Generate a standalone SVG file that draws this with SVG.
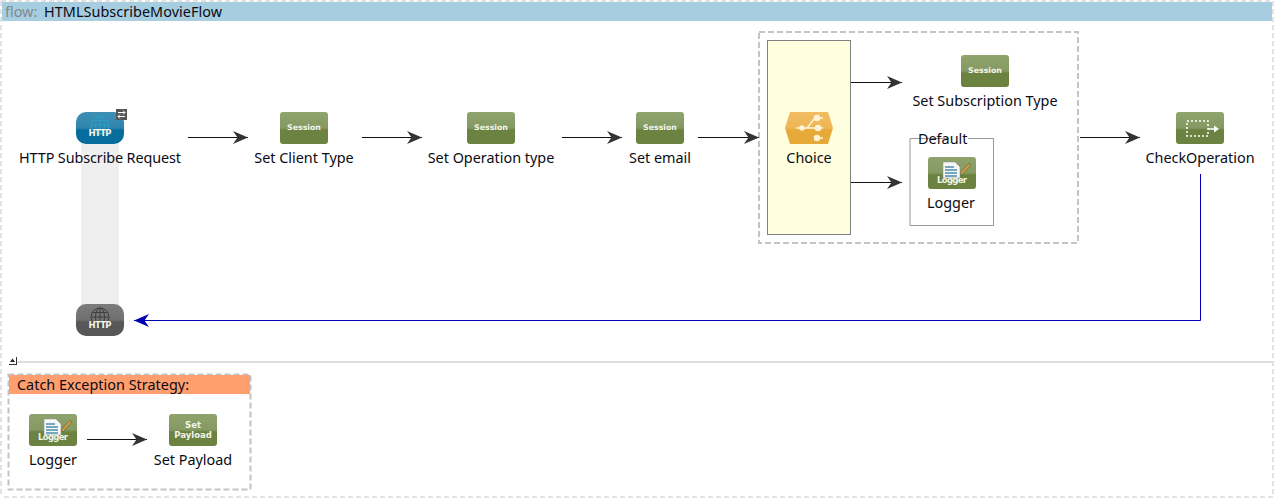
<svg xmlns="http://www.w3.org/2000/svg" width="1274" height="498" viewBox="0 0 1274 498">
<style>
text{font-family:"Noto Sans","Open Sans","Liberation Sans",sans-serif;font-size:14.4px;fill:#0b0b14}
.l{text-anchor:middle}
.ic{font-family:"DejaVu Sans",sans-serif;font-size:8.5px;font-weight:700;fill:#f2f5ea;text-anchor:middle}
.c{fill:none;stroke:#111;stroke-width:1}
.dash{fill:none;stroke:#c4c4c4;stroke-width:2;stroke-dasharray:6 3}
.dash2{fill:none;stroke:#e2e2e2;stroke-width:2;stroke-dasharray:5 3}
</style>
<defs>
<linearGradient id="g" x1="0" y1="0" x2="0" y2="1"><stop offset="0" stop-color="#8fa36c"/><stop offset=".5" stop-color="#859a62"/><stop offset=".56" stop-color="#6b8240"/><stop offset="1" stop-color="#6b8240"/></linearGradient>
<linearGradient id="b" x1="0" y1="0" x2="0" y2="1"><stop offset="0" stop-color="#3f8fb5"/><stop offset=".5" stop-color="#2f84ad"/><stop offset=".56" stop-color="#066d9c"/><stop offset="1" stop-color="#066d9c"/></linearGradient>
<linearGradient id="k" x1="0" y1="0" x2="0" y2="1"><stop offset="0" stop-color="#7c7c7c"/><stop offset=".5" stop-color="#707070"/><stop offset=".56" stop-color="#575757"/><stop offset="1" stop-color="#575757"/></linearGradient>
<linearGradient id="o" x1="0" y1="0" x2="0" y2="1"><stop offset="0" stop-color="#f0bd62"/><stop offset=".5" stop-color="#eeb655"/><stop offset=".56" stop-color="#e6a93a"/><stop offset="1" stop-color="#e6a93a"/></linearGradient>
<marker id="ah" markerUnits="userSpaceOnUse" markerWidth="16" markerHeight="14" refX="15" refY="7" orient="auto"><path d="M0 0.500L15 7L0 13.500L4.500 7Z" fill="#333"/></marker>
<marker id="ab" markerUnits="userSpaceOnUse" markerWidth="16" markerHeight="14" refX="15" refY="7" orient="auto"><path d="M0 0.500L15 7L0 13.500L4.500 7Z" fill="#0000b4"/></marker>
<g id="globe" fill="none" stroke-width="1"><circle cx="0" cy="0" r="9"/><ellipse cx="0" cy="0" rx="4.500" ry="9"/><path d="M0-9V9M-9 0H9M-8-4.500H8M-8 4.500H8"/></g>
<g id="doc"><path d="M-8-8H4L9-3V8H-8Z" fill="#f7f7f7" stroke="#888" stroke-width=".5"/><path d="M-6-3H3M-6 0H6M-6 3H6M-6 6H6" stroke="#4a8fb0" stroke-width="1.500"/><path d="M9 3L18-7L20-5L11 5Z" fill="#d09a34" stroke="#555" stroke-width=".5"/></g>
</defs>

<rect x="0" y="0" width="1274" height="498" fill="#fff"/>
<path class="dash2" d="M1 1H1273V497H1"/><path class="dash2" d="M1 1V497"/>
<rect x="2" y="2" width="1270" height="19" fill="#a7cde1"/>
<text x="5" y="17" style="fill:#82888c">flow:</text>
<text x="44" y="17" textLength="178">HTMLSubscribeMovieFlow</text>

<rect x="81" y="143" width="38" height="165" fill="#efefef"/>
<path d="M8 362H1274" stroke="#dedede" stroke-width="2"/>
<rect x="8" y="357" width="8.500" height="8" fill="#fff"/>
<path d="M9 364.500H16.500M16.500 357V365" stroke="#333" stroke-width="1" fill="none"/><path d="M10 362L12.500 358.500L15 362Z" fill="#222"/>

<rect class="dash" x="759" y="32" width="319" height="211"/>
<rect x="767.500" y="40.500" width="83" height="194" fill="#ffffdf" stroke="#808080" stroke-width="1"/>
<path d="M949 138.500H910V225.500H993.500V138.500H968" fill="none" stroke="#999" stroke-width="1"/>
<rect class="dash" x="8.500" y="374.500" width="242" height="115"/>
<rect x="9" y="375" width="241" height="19" fill="#ff9f70"/>
<text x="17" y="390" textLength="172">Catch Exception Strategy:</text>

<g id="connectors">
<path class="c" d="M188 137.500H248" marker-end="url(#ah)"/>
<path class="c" d="M362 137.500H422" marker-end="url(#ah)"/>
<path class="c" d="M562 137.500H622" marker-end="url(#ah)"/>
<path class="c" d="M698 137.500H759" marker-end="url(#ah)"/>
<path class="c" d="M851 82.500H902" marker-end="url(#ah)"/>
<path class="c" d="M851 182.500H902" marker-end="url(#ah)"/>
<path class="c" d="M1080 137.500H1140" marker-end="url(#ah)"/>
<path d="M1200.500 174V320.500H134" fill="none" stroke="#0000b4" stroke-width="1" marker-end="url(#ab)"/>
<path class="c" d="M87 439.500H147" marker-end="url(#ah)"/>
</g>

<g id="http-request">
<rect x="76" y="112" width="48" height="32" rx="10" fill="url(#b)"/>
<use href="#globe" x="100" y="125" stroke="#2aa0c4"/>
<text class="ic" x="100" y="136" textLength="23">HTTP</text>
<rect x="116" y="109" width="11" height="11" fill="#555"/>
<path d="M118 112.500H125M123 110.500L125 112.500L123 114.500M125 116.500H118M120 114.500L118 116.500L120 118.500" stroke="#fff" stroke-width="1" fill="none"/>
<text class="l" x="100" y="163" textLength="162">HTTP Subscribe Request</text>
</g>
<g id="http-response">
<rect x="76" y="304" width="48" height="32" rx="10" fill="url(#k)"/>
<use href="#globe" x="100" y="317" stroke="#3e3e3e"/>
<text class="ic" x="100" y="328" textLength="23">HTTP</text>
</g>
<g id="set-client-type">
<rect x="280" y="112" width="48" height="32" rx="3" fill="url(#g)"/>
<text class="ic" x="304" y="130" style="font-size:7.8px">Session</text>
<text class="l" x="304" y="163">Set Client Type</text>
</g>
<g id="set-operation-type">
<rect x="467" y="112" width="48" height="32" rx="3" fill="url(#g)"/>
<text class="ic" x="491" y="130" style="font-size:7.8px">Session</text>
<text class="l" x="491" y="163">Set Operation type</text>
</g>
<g id="set-email">
<rect x="636" y="112" width="48" height="32" rx="3" fill="url(#g)"/>
<text class="ic" x="660" y="130" style="font-size:7.8px">Session</text>
<text class="l" x="660" y="163">Set email</text>
</g>
<g id="choice">
<path d="M785 128L790 112H828L833 128L828 144H790Z" fill="url(#o)"/>
<g stroke="#fff3d6" fill="#fff3d6" stroke-width="1.500"><path d="M796 128H807L815 118H823M807 128H823M815 138H823" fill="none"/><circle cx="802" cy="128" r="2"/><circle cx="817" cy="118" r="2.500"/><circle cx="818" cy="128" r="2.500"/><circle cx="817" cy="138" r="2.500"/></g>
<text class="l" x="809" y="163">Choice</text>
</g>
<g id="set-subscription-type">
<rect x="961" y="55" width="48" height="32" rx="3" fill="url(#g)"/>
<text class="ic" x="985" y="73" style="font-size:7.8px">Session</text>
<text class="l" x="985" y="106">Set Subscription Type</text>
</g>
<g id="default-logger">
<text x="918" y="144">Default</text>
<rect x="928" y="157" width="48" height="32" rx="3" fill="url(#g)"/>
<use href="#doc" x="951" y="170"/>
<text class="ic" x="952" y="183" textLength="30">Logger</text>
<text class="l" x="951" y="208">Logger</text>
</g>
<g id="check-operation">
<rect x="1176" y="112" width="48" height="32" rx="3" fill="url(#g)"/>
<rect x="1187" y="121" width="21" height="15" fill="none" stroke="#fff" stroke-width="1.500" stroke-dasharray="2 2"/>
<path d="M1208 129H1215" stroke="#fff" stroke-width="1.500"/><path d="M1214 125.500L1219 129L1214 132.500Z" fill="#fff"/>
<text class="l" x="1200" y="163">CheckOperation</text>
</g>
<g id="catch-logger">
<rect x="29" y="414" width="48" height="32" rx="3" fill="url(#g)"/>
<use href="#doc" x="52" y="427"/>
<text class="ic" x="53" y="440" textLength="30">Logger</text>
<text class="l" x="53" y="465">Logger</text>
</g>
<g id="set-payload">
<rect x="169" y="414" width="48" height="32" rx="3" fill="url(#g)"/>
<text class="ic" x="193" y="428">Set</text>
<text class="ic" x="193" y="438">Payload</text>
<text class="l" x="193" y="465">Set Payload</text>
</g>
</svg>
